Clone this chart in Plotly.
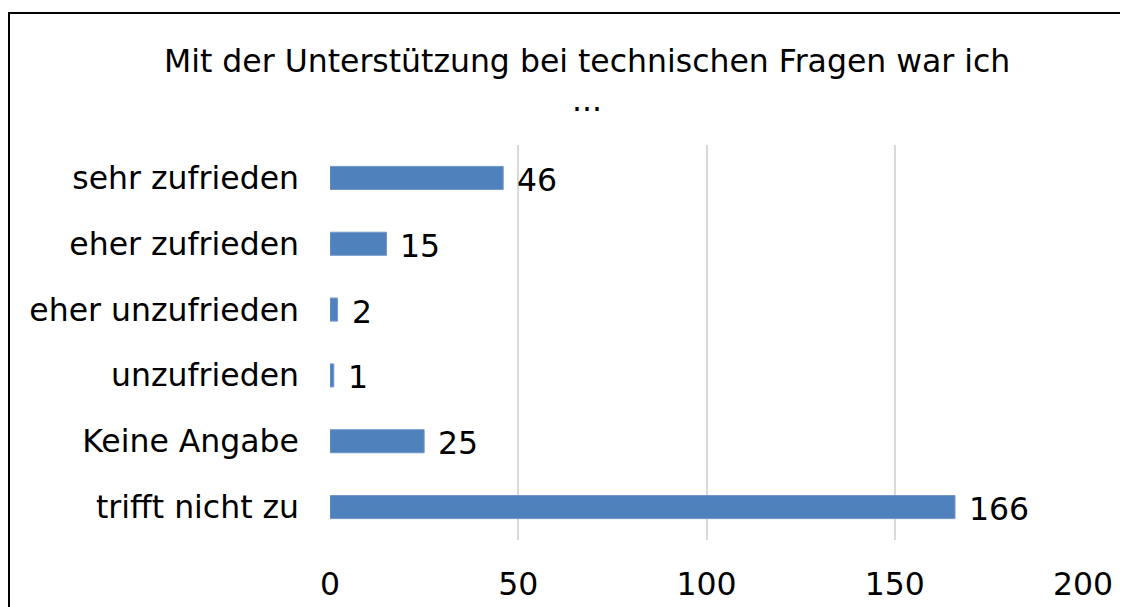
import plotly.graph_objects as go

categories = ["sehr zufrieden", "eher zufrieden", "eher unzufrieden", "unzufrieden", "Keine Angabe", "trifft nicht zu"]
values = [46, 15, 2, 1, 25, 166]
x_ticks = [0, 50, 100, 150, 200]
title_lines = ["Mit der Unterstützung bei technischen Fragen war ich", "..."]

FONT = "DejaVu Sans"
FS = 31.5
BAR = "#4f81bd"

# page body has an 8px margin; figure sized to fill the rest of the window
OFF = 8
W, H = 1128 - OFF, 607 - OFF
L, R, T, B = 330 - OFF, 45, 145 - OFF, 67
pw, ph = W - L - R, H - T - B


def px_x(xp):
    return (xp - OFF - L) / pw


def px_y(yp):
    return (H - B - (yp - OFF)) / ph


fig = go.Figure()
fig.add_trace(go.Bar(
    y=categories, x=values, orientation="h",
    marker=dict(color=BAR, line=dict(color="#6f97cc", width=1)),
    hoverinfo="x+y",
))

for c, v in zip(categories, values):
    fig.add_annotation(x=v, y=c, text=str(v), showarrow=False,
                       xanchor="left", yanchor="middle", xshift=12, yshift=-2,
                       font=dict(family=FONT, size=FS, color="#000000"))

# title (two lines, Excel-like spacing)
for line, yc in zip(title_lines, [61, 100]):
    fig.add_annotation(xref="paper", yref="paper", x=px_x(587), y=px_y(yc),
                       text=line, showarrow=False, xanchor="center", yanchor="middle",
                       font=dict(family=FONT, size=FS, color="#000000"))

fig.add_shape(type="rect", xref="paper", yref="paper",
              x0=px_x(9), x1=px_x(1160),
              y0=px_y(640), y1=px_y(13),
              line=dict(color="#000000", width=2), fillcolor="rgba(0,0,0,0)", layer="below")

fig.update_layout(
    width=W, height=H,
    margin=dict(l=L, r=R, t=T, b=B, autoexpand=False),
    paper_bgcolor="white", plot_bgcolor="white",
    font=dict(family=FONT, size=FS, color="#000000"),
    bargap=0.65,
    showlegend=False,
    xaxis=dict(range=[0, 200], tickvals=x_ticks, ticktext=[str(t) for t in x_ticks],
               showgrid=True, gridcolor="#d9d9d9", gridwidth=2, zeroline=False,
               showline=False, ticks="", ticklabelstandoff=22, automargin=False,
               tickfont=dict(family=FONT, size=FS, color="#000000")),
    yaxis=dict(categoryorder="array", categoryarray=categories[::-1],
               showgrid=False, zeroline=False, showline=False, ticks="",
               ticklabelstandoff=30, automargin=False,
               tickfont=dict(family=FONT, size=FS, color="#000000")),
)

fig.write_html("out.html")
